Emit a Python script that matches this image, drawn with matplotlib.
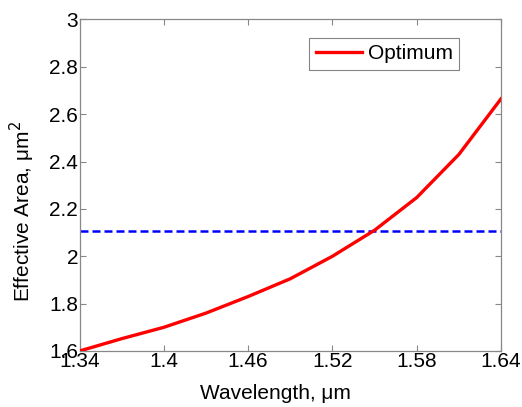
import matplotlib
matplotlib.use("Agg")
import matplotlib.pyplot as plt

# Effective mode area versus wavelength
wavelength = [1.34, 1.37, 1.40, 1.43, 1.46, 1.49, 1.52, 1.55, 1.58, 1.61, 1.64]
area_optimum = [1.60, 1.652, 1.70, 1.76, 1.83, 1.905, 2.00, 2.11, 2.248, 2.43, 2.665]
reference_area = 2.107

x_ticks = [1.34, 1.40, 1.46, 1.52, 1.58, 1.64]
x_tick_labels = ["1.34", "1.4", "1.46", "1.52", "1.58", "1.64"]
y_ticks = [1.6, 1.8, 2.0, 2.2, 2.4, 2.6, 2.8, 3.0]
y_tick_labels = ["1.6", "1.8", "2", "2.2", "2.4", "2.6", "2.8", "3"]

plt.rcParams["font.family"] = ["Liberation Sans", "DejaVu Sans"]
FS = 15

fig = plt.figure(figsize=(5.22, 4.07), dpi=100)
ax = fig.add_axes([79.5 / 522, 1 - 351 / 407, (501 - 79.5) / 522, (351 - 19.5) / 407])

ax.plot(wavelength, area_optimum, color="#ff0000", lw=2.4, label="Optimum", zorder=3)
ax.axhline(reference_area, color="#0000ff", lw=1.8, ls=(0, (3.2, 1.6)), zorder=2)

ax.set_xlim(1.34, 1.64)
ax.set_ylim(1.6, 3.0)
ax.set_xticks(x_ticks)
ax.set_xticklabels(x_tick_labels)
ax.set_yticks(y_ticks)
ax.set_yticklabels(y_tick_labels)

ax.tick_params(direction="in", length=4, width=0.8, colors="#888888",
               labelcolor="black", labelsize=FS, pad=1.0,
               top=True, right=True)
for side in ax.spines.values():
    side.set_color("#888888")
    side.set_linewidth(0.9)

ax.set_xlabel("Wavelength, μm", fontsize=FS)
ax.xaxis.set_label_coords(0.464, -0.10)
ax.set_ylabel("Effective Area, μm$^2$", fontsize=FS)
ax.yaxis.set_label_coords(-0.10, 0.422)

leg = ax.legend(loc="upper right", bbox_to_anchor=(459 / 522, 1 - 38 / 407),
                bbox_transform=fig.transFigure, fontsize=FS, fancybox=False,
                frameon=True, handlelength=2.2, handletextpad=0.3,
                borderpad=0.3, borderaxespad=0)
leg.get_frame().set_edgecolor("#666666")
leg.get_frame().set_linewidth(0.8)

fig.savefig("out.png", dpi=100)
